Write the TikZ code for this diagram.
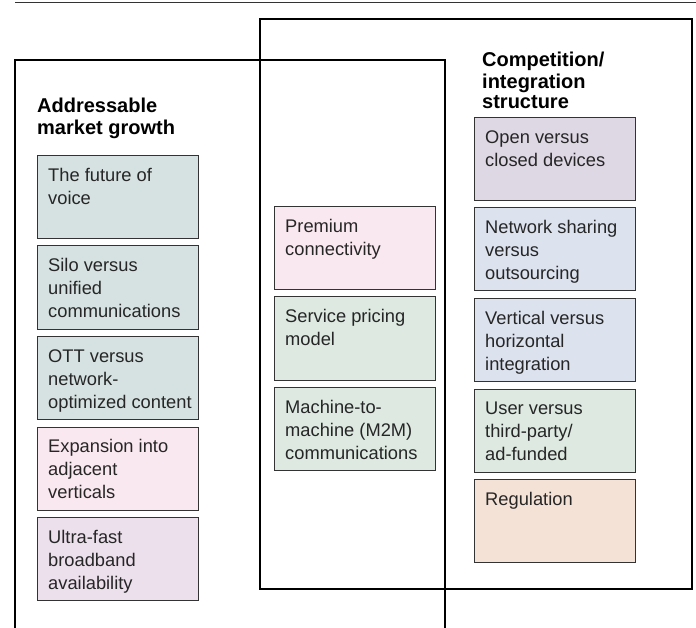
\documentclass[tikz,border=0pt]{standalone}
\usepackage{fontspec}
\setmainfont{Liberation Sans}

% box fills
\definecolor{tealgray}{RGB}{214,226,225}
\definecolor{rosepink}{RGB}{250,232,240}
\definecolor{lilac}{RGB}{236,224,236}
\definecolor{mintgreen}{RGB}{221,233,225}
\definecolor{mauve}{RGB}{222,215,228}
\definecolor{paleblue}{RGB}{220,226,238}
\definecolor{peach}{RGB}{245,226,215}

% one issue box: name, x, y, fill, text
\newcommand{\issue}[5]{
\node[cell, fill=#4] (#1) at (#2,#3) {};
\node[celltext] (#1-t) at ([shift={(11,10)}]#1.north west) {\strut #5};
}

\begin{document}
\begin{tikzpicture}[
    x=1pt, y=-1pt,
    frame/.style={draw=black, line width=2.5pt},
    cell/.style={
        draw=black!80,
        line width=1pt,
        anchor=north west,
        minimum width=161pt,
        minimum height=83pt,
        inner sep=0pt
    },
    celltext/.style={
        anchor=north west,
        align=left,
        inner sep=0pt,
        text=black!85,
        font=\fontsize{18.3}{23}\selectfont
    },
    heading/.style={
        anchor=north west,
        align=left,
        inner sep=0pt,
        font=\fontsize{20}{20}\selectfont\bfseries
    }
]
\useasboundingbox (0,0) rectangle (696,628);

% Rule on top
\draw[black!80, line width=1pt] (15,3) -- (696,3);

% Frames
\draw[frame] (15,628) -- (15,60) -- (445,60) -- (445,628);
\draw[frame] (260,19) rectangle (692,589);

% Headings
\node[heading] (market) at (37,98) {\strut Addressable\\market growth};
\node[heading] (compet) at (482,52) {\strut Competition/\\integration\\structure};

% Addressable market growth
\issue{voice}{37}{155}{tealgray}{The future of\\voice}
\issue{silo}{37}{245.5}{tealgray}{Silo versus\\unified\\communications}
\issue{ott}{37}{336}{tealgray}{OTT versus\\network-\\optimized content}
\issue{expand}{37}{426.5}{rosepink}{Expansion into\\adjacent\\verticals}
\issue{ultra}{37}{517}{lilac}{Ultra-fast\\broadband\\availability}

% Overlap
\issue{premium}{274}{206}{rosepink}{Premium\\connectivity}
\issue{pricing}{274}{296.5}{mintgreen}{Service pricing\\model}
\issue{mtm}{274}{387}{mintgreen}{Machine-to-\\machine (M2M)\\communications}

% Competition/integration structure
\issue{open}{474}{117}{mauve}{Open versus\\closed devices}
\issue{sharing}{474}{207.5}{paleblue}{Network sharing\\versus\\outsourcing}
\issue{vertical}{474}{298}{paleblue}{Vertical versus\\horizontal\\integration}
\issue{user}{474}{388.5}{mintgreen}{User versus\\third-party/\\ad-funded}
\issue{regul}{474}{479}{peach}{Regulation}

\end{tikzpicture}
\end{document}
